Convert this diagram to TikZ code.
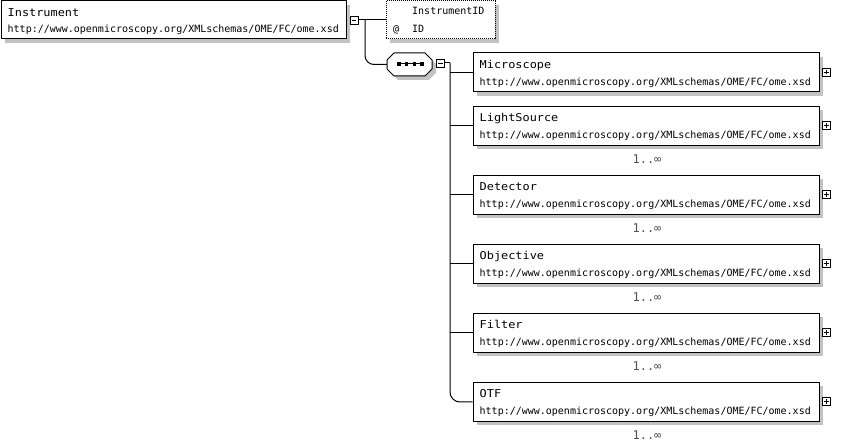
\documentclass[tikz,border=0pt]{standalone}
\usepackage{fontspec}
\setmonofont{DejaVu Sans Mono}
\newfontfamily\ttlfont[FakeStretch=1.1]{DejaVu Sans Mono}
\usetikzlibrary{calc,shadows}
\definecolor{shadowgrey}{HTML}{C2C2C2}
\definecolor{multgrey}{HTML}{505050}
\newcommand\omeurl{http://www.openmicroscopy.org/XMLschemas/OME/FC/ome.xsd}

\begin{document}
\begin{tikzpicture}[x=1pt,y=-1pt,
  conn/.style={line width=1pt},
  boxshadow/.style={general shadow={fill=shadowgrey, shadow xshift=4pt, shadow yshift=-4pt}},
  elem/.style={draw, line width=1pt, fill=white, inner sep=0pt,
    minimum width=346pt, minimum height=39pt, boxshadow},
  ttl/.style={inner sep=0pt, font=\fontsize{10.8pt}{13pt}\ttlfont},
  url/.style={inner sep=0pt, font=\fontsize{10pt}{12pt}\ttfamily},
  mult/.style={inner sep=0pt, text=multgrey, font=\fontsize{12pt}{14pt}\ttfamily},
  pmbox/.style={draw, line width=0.8pt, fill=white, inner sep=0pt, minimum size=8pt},
  minusbox/.style={pmbox, path picture={\draw[line width=0.8pt]
    ([xshift=1.8pt]path picture bounding box.west) -- ([xshift=-1.8pt]path picture bounding box.east);}},
  plusbox/.style={pmbox, path picture={\draw[line width=0.8pt]
    ([xshift=1.8pt]path picture bounding box.west) -- ([xshift=-1.8pt]path picture bounding box.east)
    ([yshift=1.8pt]path picture bounding box.south) -- ([yshift=-1.8pt]path picture bounding box.north);}},
]
\useasboundingbox (0,0) rectangle (860,443);

% element box with title, namespace line and expand button
\newcommand\elembox[3]{%
  \node[elem] (#1) at (646,#2) {};
  \node[ttl, anchor=base west] (#1-t) at ([shift={(7pt,-15.8pt)}]#1.north west) {#3};
  \node[url, anchor=base west] (#1-u) at ([shift={(7pt,-32.8pt)}]#1.north west) {\omeurl};
  \node[plusbox] (#1-p) at (826.5,#2-0.5) {};
}
\newcommand\multlabel[1]{%
  \node[mult, anchor=base] (#1-mult) at ([shift={(1pt,-18pt)}]#1.south) {1..∞};
}

% root element
\node[elem, minimum width=345pt, minimum height=38pt] (instr) at (173.5,20) {};
\node[ttl, anchor=base west] (instr-t) at ([shift={(7pt,-15.8pt)}]instr.north west) {Instrument};
\node[url, anchor=base west] (instr-u) at ([shift={(7pt,-32pt)}]instr.north west) {\omeurl};
\node[minusbox] (instr-m) at (354.2,20) {};

% attribute group
\node[draw, line width=1pt, dash pattern=on 1pt off 1pt, fill=white, inner sep=0pt,
  minimum width=109pt, minimum height=38pt, boxshadow] (iid) at (440.5,20) {};
\node[url, anchor=base west] (iid-t) at (412,14.8) {InstrumentID};
\node[url, anchor=base west] (iid-a) at (393,32.5) {@\hspace{13pt}ID};

% sequence compositor
\node[minimum width=45pt, minimum height=23pt, inner sep=0pt] (seq) at (409.5,64.5) {};
\fill[shadowgrey] (398,57) -- (429,57) -- (436,64) -- (436,73) -- (429,80) -- (398,80) -- (391,73) -- (391,64) -- cycle;
\draw[conn, fill=white] (394,53) -- (425,53) -- (432,60) -- (432,69) -- (425,76) -- (394,76) -- (387,69) -- (387,60) -- cycle;
\draw[line width=1pt] (397,64) -- (424,64);
\foreach \sx in {398.8,406.6,414.4,422.2}
  \fill (\sx-1.8,62.2) rectangle (\sx+1.8,65.8);
\node[minusbox] (seq-m) at (440.5,63) {};

% child elements
\elembox{micro}{72.5}{Microscope}
\elembox{light}{126}{LightSource}
\elembox{det}{195}{Detector}
\elembox{obj}{264}{Objective}
\elembox{filt}{333}{Filter}
\elembox{otf}{402}{OTF}
\multlabel{light}
\multlabel{det}
\multlabel{obj}
\multlabel{filt}
\multlabel{otf}

% connectors
\coordinate (ibranch) at (365,20);
\coordinate (spine) at (450,63);
\draw[conn] (instr-m.east) -- (iid.west);
\draw[conn, rounded corners=9pt] (ibranch) |- (seq.west);
\draw[conn] (seq-m.east) -- (spine);
\draw[conn, rounded corners=10pt] (spine) |- (otf.west);
\foreach \c in {micro,light,det,obj,filt}
  \draw[conn] (spine |- \c.west) -- (\c.west);
\end{tikzpicture}
\end{document}
